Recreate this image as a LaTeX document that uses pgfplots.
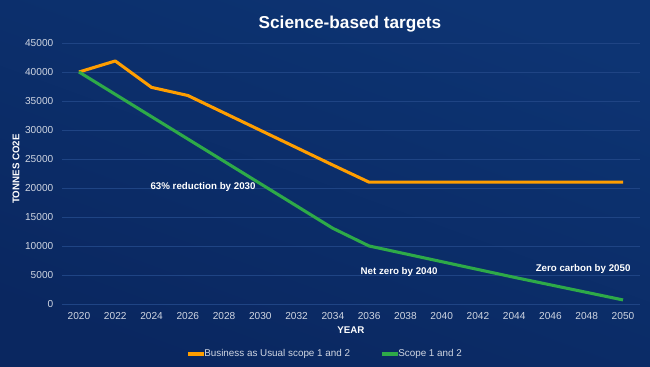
\documentclass[border=0pt]{standalone}
\usepackage{pgfplots}
\pgfplotsset{compat=1.18}
\usepackage{fontspec}
\setmainfont{Liberation Sans}
\definecolor{bgtop}{HTML}{0D3473}
\definecolor{bgbot}{HTML}{0A2760}
\definecolor{gridc}{HTML}{1F4484}
\definecolor{tickc}{HTML}{D0D6E2}
\definecolor{orangec}{HTML}{FF9E00}
\definecolor{greenc}{HTML}{2EAA48}
\begin{document}
\begin{tikzpicture}
\shade[top color=bgtop,bottom color=bgbot,shading angle=-20] (0pt,0pt) rectangle (487.5pt,275.25pt);
\begin{axis}[
  at={(46.5pt,47.25pt)}, anchor=south west,
  scale only axis, width=433.5pt, height=195.75pt,
  xmin=2019.0625, xmax=2050.9375, ymin=0, ymax=45000,
  xtick={2020,2022,...,2050}, ytick={0,5000,...,45000},
  axis line style={draw=none},
  major tick length=0pt,
  ymajorgrids, grid style={gridc, line width=0.6pt},
  tick label style={font=\fontsize{7.6}{9}\selectfont, text=tickc},
  /pgf/number format/assume math mode=true,
  scaled y ticks=false,
  x tick label style={/pgf/number format/1000 sep={}, yshift=-3pt},
  y tick label style={/pgf/number format/1000 sep={}, xshift=-3pt},
  clip=false,
]
\addplot[orangec, line width=2.3pt, line join=round] coordinates {
 (2020,40000) (2022,41900) (2024,37350) (2026,35950) (2028,32950) (2030,29950)
 (2032,26950) (2034,23950) (2036,21000) (2038,21000) (2040,21000) (2042,21000)
 (2044,21000) (2046,21000) (2048,21000) (2050,21000)};
\addplot[greenc, line width=2.3pt, line join=round] coordinates {
 (2020,40000) (2022,36150) (2024,32300) (2026,28450) (2028,24600) (2030,20750)
 (2032,16900) (2034,13050) (2036,10000) (2038,8650) (2040,7300) (2042,5950)
 (2044,4600) (2046,3300) (2048,2000) (2050,700)};
\node[text=white, font=\bfseries\fontsize{7.3}{9}\selectfont] at (axis cs:2026.84,20170) {63\% reduction by 2030};
\node[text=white, font=\bfseries\fontsize{7.3}{9}\selectfont] at (axis cs:2037.65,5517) {Net zero by 2040};
\node[text=white, font=\bfseries\fontsize{7.3}{9}\selectfont] at (axis cs:2047.8,6034) {Zero carbon by 2050};
\end{axis}
\node[text=white, font=\bfseries\fontsize{12.9}{16}\selectfont] at (262.5pt,257.25pt) {Science-based targets};
\node[text=white, font=\bfseries\fontsize{7.3}{9}\selectfont] at (263.25pt,28pt) {YEAR};
\node[text=white, font=\bfseries\fontsize{7.3}{9}\selectfont, rotate=90] at (12pt,148.5pt) {TONNES CO2E};
\draw[orangec, line width=2.3pt] (141pt,9.75pt) -- (153pt,9.75pt);
\node[anchor=west, inner sep=0pt, text=tickc, font=\fontsize{7.4}{9}\selectfont] at (153pt,9.75pt) {Business as Usual scope 1 and 2};
\draw[greenc, line width=2.3pt] (286.5pt,9.75pt) -- (298.5pt,9.75pt);
\node[anchor=west, inner sep=0pt, text=tickc, font=\fontsize{7.4}{9}\selectfont] at (298.5pt,9.75pt) {Scope 1 and 2};
\end{tikzpicture}
\end{document}
